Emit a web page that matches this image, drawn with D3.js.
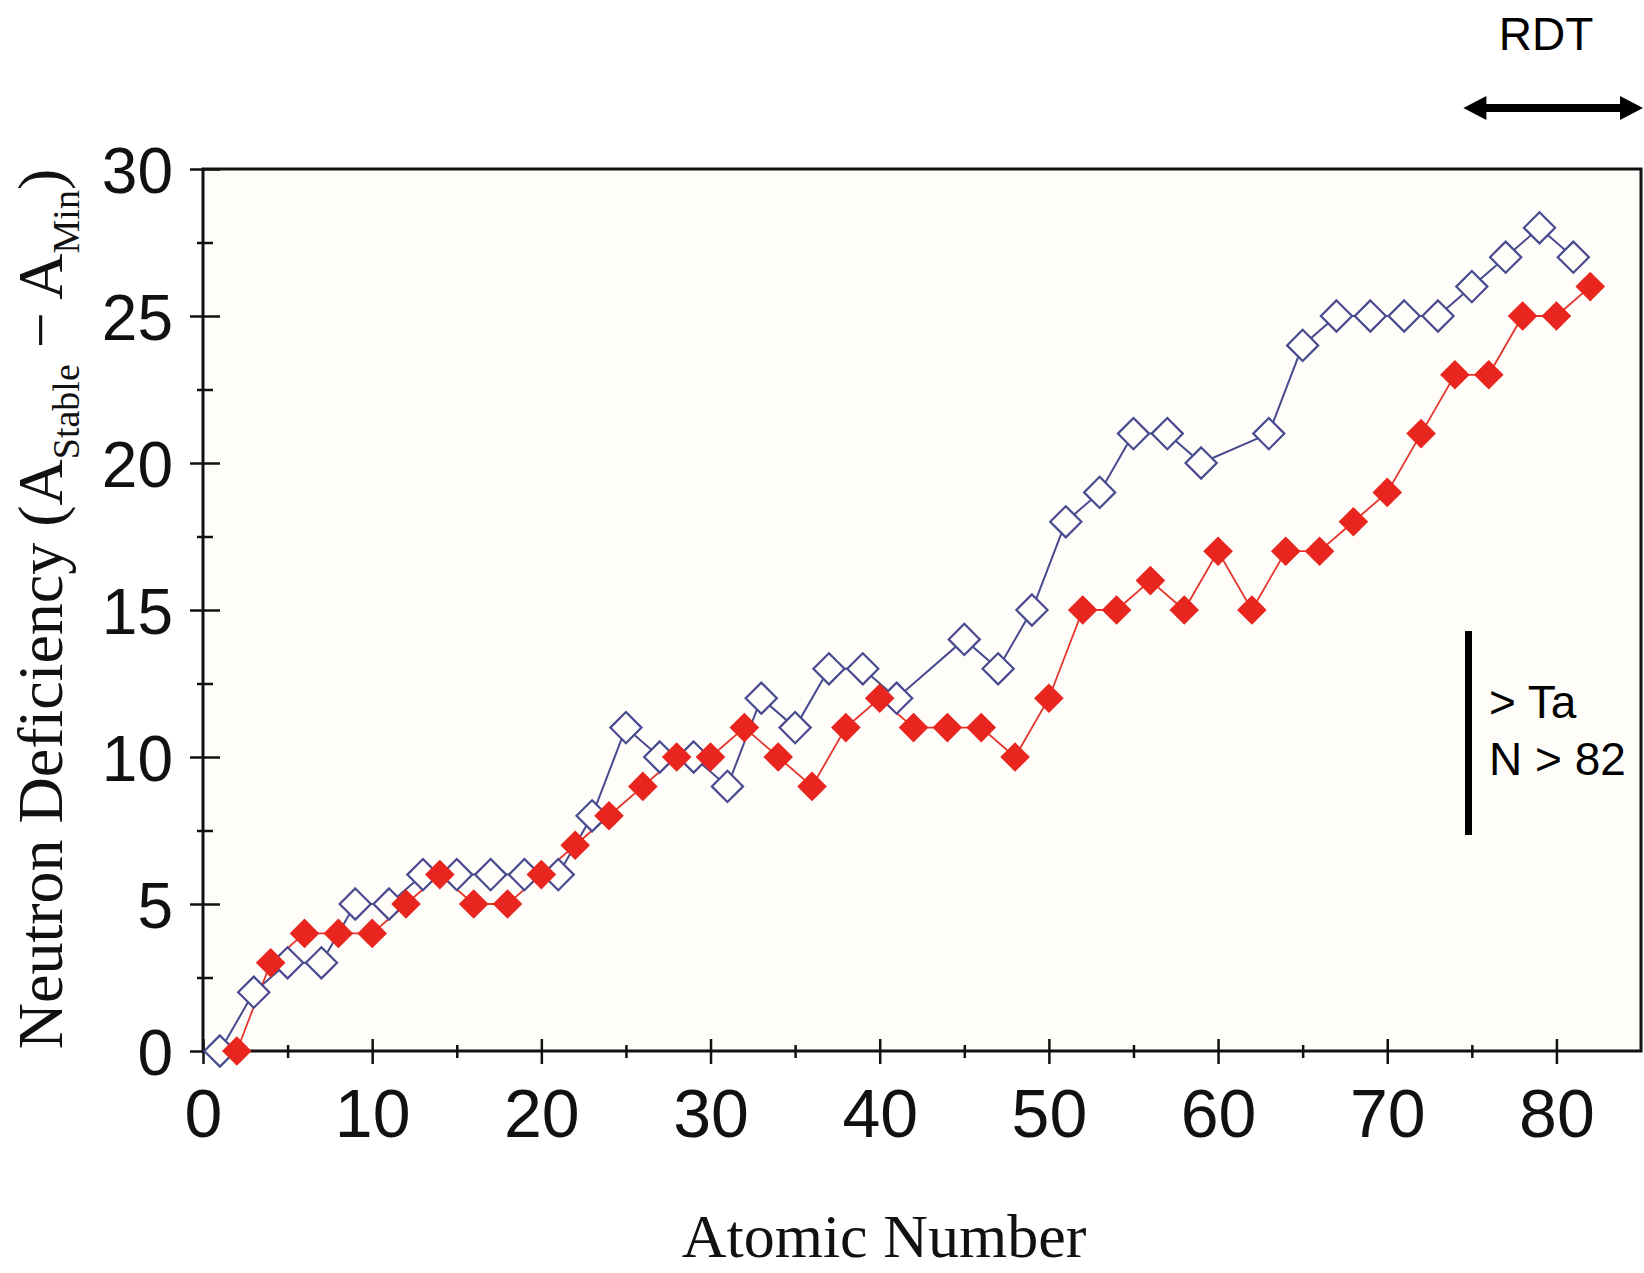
<!doctype html>
<html lang='en'>
<head>
	<meta charset='utf-8'>
	<title>Neutron deficiency vs atomic number</title>
	<script src='https://cdn.jsdelivr.net/npm/d3@7'></script>
	<style>
		html, body {
			margin: 0;
			background: #fff;
		}
		svg { display: block; }
		.tick line { stroke: #111; }
	</style>
</head>
<body>
	<div id='container'></div>

	<script>
		// Data
		const blueZ = [1, 3, 5, 7, 9, 11, 13, 15, 17, 19, 21, 23, 25, 27, 29, 31, 33, 35, 37, 39, 41,
			45, 47, 49, 51, 53, 55, 57, 59, 63, 65, 67, 69, 71, 73, 75, 77, 79, 81];
		const blueVal = [0, 2, 3, 3, 5, 5, 6, 6, 6, 6, 6, 8, 11, 10, 10, 9, 12, 11, 13, 13, 12,
			14, 13, 15, 18, 19, 21, 21, 20, 21, 24, 25, 25, 25, 25, 26, 27, 28, 27];

		const redZ = [2, 4, 6, 8, 10, 12, 14, 16, 18, 20, 22, 24, 26, 28, 30, 32, 34, 36, 38, 40,
			42, 44, 46, 48, 50, 52, 54, 56, 58, 60, 62, 64, 66, 68, 70, 72, 74, 76, 78, 80, 82];
		const redVal = [0, 3, 4, 4, 4, 5, 6, 5, 5, 6, 7, 8, 9, 10, 10, 11, 10, 9, 11, 12,
			11, 11, 11, 10, 12, 15, 15, 16, 15, 17, 15, 17, 17, 18, 19, 21, 23, 23, 25, 25, 26];

		const xMajor = [0, 10, 20, 30, 40, 50, 60, 70, 80];
		const xMinor = [5, 15, 25, 35, 45, 55, 65, 75];
		const yMajor = [0, 5, 10, 15, 20, 25, 30];
		const yMinor = [2.5, 7.5, 12.5, 17.5, 22.5, 27.5];

		const W = 1644, H = 1273;
		const plot = {left: 203, right: 1641, top: 169, bottom: 1051};
		const bg = '#fffdf9';

		const x = d3.scaleLinear().domain([0, 85]).range([plot.left, plot.right]);
		const y = d3.scaleLinear().domain([0, 30]).range([plot.bottom, plot.top]);

		const svg = d3.select('#container').append('svg')
			.attr('width', W)
			.attr('height', H);

		// plot background
		svg.append('rect')
			.attr('x', plot.left).attr('y', plot.top)
			.attr('width', plot.right - plot.left)
			.attr('height', plot.bottom - plot.top)
			.attr('fill', bg);

		const sans = 'Liberation Sans, Arial, Helvetica, sans-serif';
		const serif = 'Liberation Serif, Times New Roman, serif';

		// X axis: ticks cross the axis, so draw an outer and an inner half
		const xOut = svg.append('g')
			.attr('transform', 'translate(0,' + plot.bottom + ')')
			.call(d3.axisBottom(x).tickValues(xMajor).tickSize(13).tickFormat(d3.format('d')));
		xOut.selectAll('text')
			.attr('y', 86).attr('dy', 0)
			.style('font-family', sans).style('font-size', '68px').attr('fill', '#111');
		svg.append('g')
			.attr('transform', 'translate(0,' + plot.bottom + ')')
			.call(d3.axisTop(x).tickValues(xMajor).tickSize(12).tickFormat(''));
		svg.append('g')
			.attr('transform', 'translate(0,' + plot.bottom + ')')
			.call(d3.axisBottom(x).tickValues(xMinor).tickSize(7).tickFormat(''));
		svg.append('g')
			.attr('transform', 'translate(0,' + plot.bottom + ')')
			.call(d3.axisTop(x).tickValues(xMinor).tickSize(6).tickFormat(''));

		// Y axis
		const yOut = svg.append('g')
			.attr('transform', 'translate(' + plot.left + ',0)')
			.call(d3.axisLeft(y).tickValues(yMajor).tickSize(13).tickPadding(17));
		yOut.selectAll('text')
			.attr('dy', '0.36em')
			.style('font-family', sans).style('font-size', '64px').attr('fill', '#111');
		svg.append('g')
			.attr('transform', 'translate(' + plot.left + ',0)')
			.call(d3.axisRight(y).tickValues(yMajor).tickSize(17).tickFormat(''));
		svg.append('g')
			.attr('transform', 'translate(' + plot.left + ',0)')
			.call(d3.axisLeft(y).tickValues(yMinor).tickSize(6).tickFormat(''));
		svg.append('g')
			.attr('transform', 'translate(' + plot.left + ',0)')
			.call(d3.axisRight(y).tickValues(yMinor).tickSize(10).tickFormat(''));

		svg.selectAll('.domain').remove();
		svg.selectAll('.tick line').attr('stroke-width', 2.5);

		// frame
		svg.append('rect')
			.attr('x', plot.left).attr('y', plot.top)
			.attr('width', plot.right - plot.left)
			.attr('height', plot.bottom - plot.top)
			.attr('fill', 'none')
			.attr('stroke', '#111')
			.attr('stroke-width', 3);

		// series
		const blue = blueZ.map((z, i) => ({z: z, v: blueVal[i]}));
		const red = redZ.map((z, i) => ({z: z, v: redVal[i]}));

		const line = d3.line().x(d => x(d.z)).y(d => y(d.v));
		const diamond = d3.symbol().type(d3.symbolDiamond2);

		svg.append('path')
			.datum(blue)
			.attr('d', line)
			.attr('fill', 'none')
			.attr('stroke', '#474a8e')
			.attr('stroke-width', 2);

		svg.append('path')
			.datum(red)
			.attr('d', line)
			.attr('fill', 'none')
			.attr('stroke', '#e4352c')
			.attr('stroke-width', 1.8);

		svg.append('g').selectAll('path')
			.data(blue)
			.enter()
			.append('path')
			.attr('transform', d => 'translate(' + x(d.z) + ',' + y(d.v) + ')')
			.attr('d', diamond.size(620)())
			.attr('fill', bg)
			.attr('stroke', '#474a8e')
			.attr('stroke-width', 2.2);

		svg.append('g').selectAll('path')
			.data(red)
			.enter()
			.append('path')
			.attr('transform', d => 'translate(' + x(d.z) + ',' + y(d.v) + ')')
			.attr('d', diamond.size(560)())
			.attr('fill', '#e8261f');

		// Axis titles
		svg.append('text')
			.attr('x', 884).attr('y', 1257)
			.attr('text-anchor', 'middle')
			.style('font-family', serif).style('font-size', '62px')
			.attr('fill', '#111')
			.text('Atomic Number');

		const yTitle = svg.append('text')
			.attr('transform', 'translate(62,609) rotate(-90)')
			.attr('text-anchor', 'middle')
			.style('font-family', serif).style('font-size', '64px')
			.attr('fill', '#111');
		yTitle.append('tspan').text('Neutron Deficiency (A');
		yTitle.append('tspan').attr('dy', 17).style('font-size', '38px').text('Stable');
		yTitle.append('tspan').attr('dy', -17).text(' \u2212 A');
		yTitle.append('tspan').attr('dy', 17).style('font-size', '38px').text('Min');
		yTitle.append('tspan').attr('dy', -17).text(')');

		// RDT annotation
		svg.append('text')
			.attr('x', 1546).attr('y', 50)
			.attr('text-anchor', 'middle')
			.style('font-family', sans).style('font-size', '46px')
			.attr('fill', '#000')
			.text('RDT');

		const ax0 = x(74.5), ax1 = 1643, ay = 108;
		svg.append('line')
			.attr('x1', ax0 + 18).attr('x2', ax1 - 18)
			.attr('y1', ay).attr('y2', ay)
			.attr('stroke', '#000').attr('stroke-width', 8);
		svg.append('path')
			.attr('d', 'M' + ax0 + ',' + ay + 'l23,-12l0,24z M' + ax1 + ',' + ay + 'l-23,-12l0,24z')
			.attr('fill', '#000');

		// > Ta / N > 82 annotation
		svg.append('line')
			.attr('x1', 1468.5).attr('x2', 1468.5)
			.attr('y1', 631).attr('y2', 835)
			.attr('stroke', '#000').attr('stroke-width', 7);
		svg.append('text')
			.attr('x', 1489).attr('y', 718)
			.style('font-family', sans).style('font-size', '46px')
			.attr('fill', '#000')
			.text('> Ta');
		svg.append('text')
			.attr('x', 1489).attr('y', 775)
			.style('font-family', sans).style('font-size', '46px')
			.attr('fill', '#000')
			.text('N > 82');
	</script>
</body>
</html>
